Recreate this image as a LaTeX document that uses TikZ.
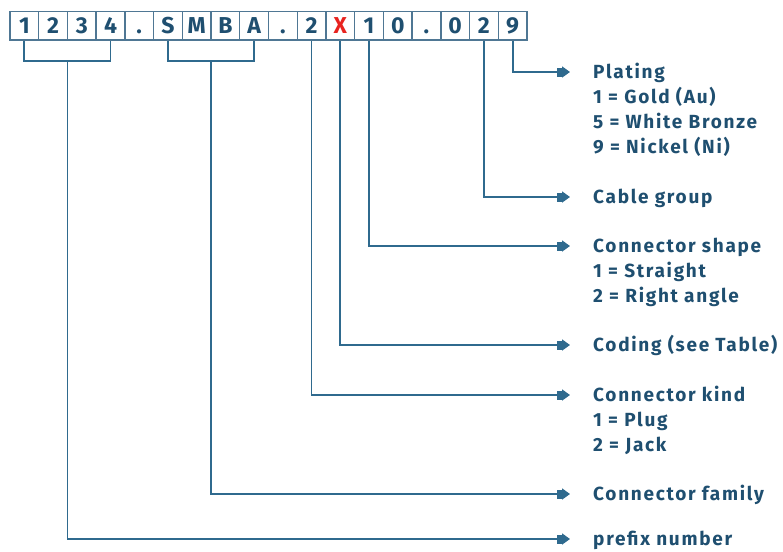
\documentclass[tikz,border=0pt]{standalone}
\usepackage{fontspec}
\setmainfont{Fira Sans}
\usetikzlibrary{arrows.meta,calc}
\definecolor{ln}{HTML}{2F6A8E}
\definecolor{tx}{HTML}{1F4F70}
\definecolor{bx}{HTML}{4F7794}
\definecolor{xr}{HTML}{E8231F}
\tikzset{
  cell/.style={draw=bx, line width=1.4pt, minimum width=28.72pt, minimum height=28.3pt,
    inner sep=0pt, text height=16pt, text depth=0pt,
    font=\fontsize{23}{26}\selectfont\bfseries},
  lbl/.style={anchor=west, inner sep=0pt, text=tx, text height=15pt, text depth=2pt,
    font=\fontsize{19}{22}\selectfont\bfseries\addfontfeatures{LetterSpace=9}},
  wire/.style={draw=ln, line width=1.8pt},
  arr/.style={wire, -{Rectangle[length=5pt,width=9pt,sep=0pt]Triangle[length=8pt,width=11pt]}}
}
\begin{document}
\begin{tikzpicture}[x=1pt,y=-1pt]
\useasboundingbox (0,0) rectangle (783,551);
\foreach \c/\col [count=\i from 0] in {1/tx,2/tx,3/tx,4/tx,./tx,S/tx,M/tx,B/tx,A/tx,./tx,2/tx,X/xr,1/tx,0/tx,./tx,0/tx,2/tx,9/tx}
  \node[cell, text=\col] (b\i) at ({10+28.72*(\i+0.5)},25.9) {\c};

% labels
\node[lbl] (plating) at (593,72) {Plating};
\node[lbl] (pl1) at (593,97) {1 = Gold (Au)};
\node[lbl] (pl5) at (593,122) {5 = White Bronze};
\node[lbl] (pl9) at (593,147) {9 = Nickel (Ni)};
\node[lbl] (cable) at (593,197) {Cable group};
\node[lbl] (shape) at (593,246) {Connector shape};
\node[lbl] (sh1) at (593,271) {1 = Straight};
\node[lbl] (sh2) at (593,296) {2 = Right angle};
\node[lbl] (coding) at (593,345) {Coding (see Table)};
\node[lbl] (kind) at (593,395) {Connector kind};
\node[lbl] (k1) at (593,420) {1 = Plug};
\node[lbl] (k2) at (593,445) {2 = Jack};
\node[lbl] (family) at (593,494) {Connector family};
\node[lbl] (prefix) at (593,539) {prefix number};

% brackets
\draw[wire] (b0.south) -- ++(0,20) coordinate (br0) -- ($(b3.south)+(0,20)$) coordinate (br3) -- (b3.south);
\coordinate (m1) at ($(br0)!0.5!(br3)$);
\draw[wire] (b5.south) -- ++(0,20) coordinate (br5) -- ($(b8.south)+(0,20)$) coordinate (br8) -- (b8.south);
\coordinate (m2) at ($(br5)!0.5!(br8)$);

% connectors
\draw[arr] (b17.south) |- ([xshift=-23pt]plating.west);
\draw[arr] (b16.south) |- ([xshift=-23pt]cable.west);
\draw[arr] (b12.south) |- ([xshift=-23pt]shape.west);
\draw[arr] (b11.south) |- ([xshift=-23pt]coding.west);
\draw[arr] (b10.south) |- ([xshift=-23pt]kind.west);
\draw[arr] (m2) |- ([xshift=-23pt]family.west);
\draw[arr] (m1) |- ([xshift=-23pt]prefix.west);
\end{tikzpicture}
\end{document}
